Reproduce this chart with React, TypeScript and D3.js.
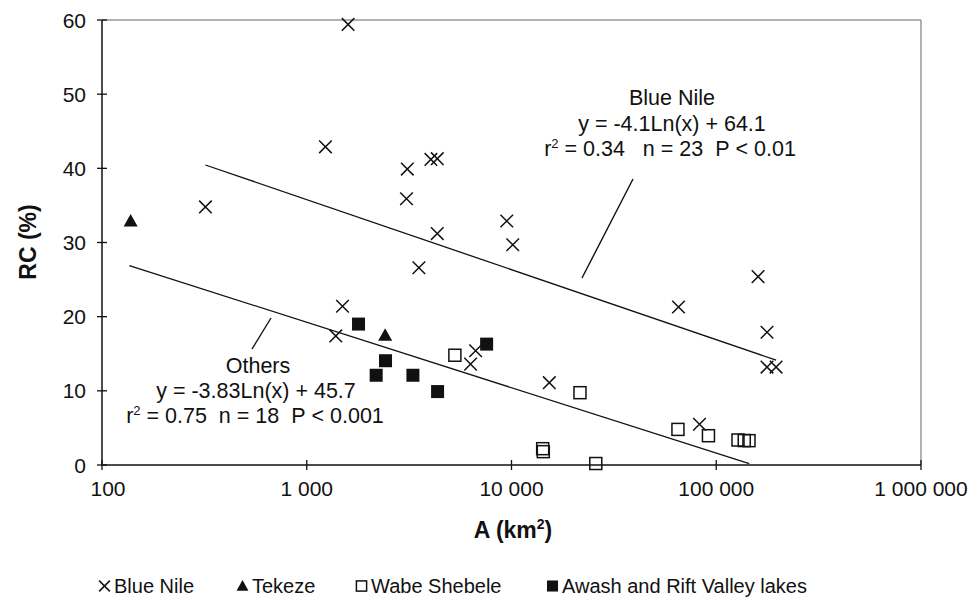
import React from 'react';
import * as d3 from 'd3';

// catchment area (km2) vs runoff coefficient (%)
const blueNile: [number, number][] = [
  [320, 34.8], [1234, 42.9], [1592, 59.4], [1386, 17.4], [1495, 21.4],
  [3070, 35.9], [3098, 39.9], [3530, 26.6], [4040, 41.2], [4340, 41.3],
  [4340, 31.2], [6310, 13.6], [6680, 15.4], [9480, 32.9], [10140, 29.7],
  [15300, 11.1], [65400, 21.3], [82800, 5.5], [160000, 25.4], [177000, 17.9],
  [177000, 13.2], [196000, 13.2],
];
const tekeze: [number, number][] = [[138, 32.9], [2415, 17.5]];
const wabeShebele: [number, number][] = [
  [5290, 14.8], [21600, 9.75], [14200, 2.2], [14300, 1.8], [25800, 0.2],
  [65000, 4.8], [91600, 3.95], [127700, 3.37], [137000, 3.3], [144500, 3.28],
];
const awashRift: [number, number][] = [
  [1790, 19.0], [2425, 14.06], [2183, 12.1], [3300, 12.1], [4355, 9.9], [7560, 16.3],
];

const xTicks = [100, 1000, 10000, 100000, 1000000];
const xTickLabels = ['100', '1 000', '10 000', '100 000', '1 000 000'];
const yTicks = [0, 10, 20, 30, 40, 50, 60];

const fits = [
  { slope: -4.1, intercept: 64.1, from: 320, to: 196000 },
  { slope: -3.83, intercept: 45.7, from: 136, to: 145000 },
];

const legendNames = ['Blue Nile', 'Tekeze', 'Wabe Shebele', 'Awash and Rift Valley lakes'];

const W = 972;
const H = 604;
const left = 102;
const right = 921;
const top = 20;
const bottom = 465;
const FONT = '"Liberation Sans", Arial, Helvetica, sans-serif';
const NB = '\u00a0';

const x = d3.scaleLog().domain([100, 1000000]).range([left, right]);
const y = d3.scaleLinear().domain([0, 60]).range([bottom, top]);

const cross = (s: number) => `M${-s},${-s}L${s},${s}M${-s},${s}L${s},${-s}`;
const tri = (s: number) => `M0,${-s}L${s},${s * 0.8}L${-s},${s * 0.8}Z`;

function Marker({ kind, cx, cy, size = 1 }: { kind: number; cx: number; cy: number; size?: number }) {
  const t = `translate(${cx},${cy})`;
  if (kind === 0)
    return <path d={cross(6.3 * size)} transform={t} stroke="#111" strokeWidth={1.5} fill="none" />;
  if (kind === 1) return <path d={tri(7 * size)} transform={t} fill="#111" />;
  if (kind === 2)
    return (
      <rect x={-6 * size} y={-6 * size} width={12 * size} height={12 * size} transform={t}
        fill="none" stroke="#111" strokeWidth={1.5} />
    );
  return <rect x={-6.5 * size} y={-6.5 * size} width={13 * size} height={13 * size} transform={t} fill="#111" />;
}

// keep runs of spaces visible in svg text
const sp = (s: string) => s.replace(/ /g, NB);

export default function App() {
  const series = [blueNile, tekeze, wabeShebele, awashRift];

  const fitPaths = fits.map((f) => {
    const pts: [number, number][] = [f.from, f.to].map((v) => [x(v), y(f.slope * Math.log(v) + f.intercept)]);
    return d3.line()(pts) as string;
  });

  const legendX = [99, 237, 356, 547];
  const legendY = 592;

  return (
    <svg width={W} height={H} style={{ position: 'absolute', left: 0, top: 0, background: '#fff' }}
      fontFamily={FONT}>
      {/* plot frame */}
      <line x1={left} x2={right} y1={top} y2={top} stroke="#999" strokeWidth={1.5} />
      <line x1={right} x2={right} y1={top} y2={bottom} stroke="#999" strokeWidth={1.5} />
      <line x1={left} x2={left} y1={top} y2={bottom} stroke="#111" strokeWidth={1.5} />
      <line x1={left} x2={right} y1={bottom} y2={bottom} stroke="#111" strokeWidth={1.5} />

      {yTicks.map((t) => (
        <g key={'y' + t}>
          <line x1={left - 5} x2={left + 5} y1={y(t)} y2={y(t)} stroke="#111" strokeWidth={1.3} />
          <text x={86} y={y(t)} dy="0.36em" textAnchor="end" fontSize={21} fill="#111">{t}</text>
        </g>
      ))}
      {xTicks.map((t, i) => (
        <g key={'x' + t}>
          <line x1={x(t)} x2={x(t)} y1={bottom - 5} y2={bottom + 5} stroke="#111" strokeWidth={1.3} />
          <text x={x(t) + (i === 0 ? 6 : 0)} y={496} textAnchor="middle" fontSize={21} fill="#111">
            {sp(xTickLabels[i])}
          </text>
        </g>
      ))}

      {/* axis titles */}
      <text transform="translate(36,242) rotate(-90)" textAnchor="middle" fontSize={23} fontWeight="bold" fill="#111">
        RC (%)
      </text>
      <text x={513} y={538} textAnchor="middle" fontSize={23} fontWeight="bold" fill="#111">
        A (km<tspan fontSize={14} dy={-9}>2</tspan><tspan dy={9}>)</tspan>
      </text>

      {/* regression lines */}
      {fitPaths.map((d, i) => (
        <path key={'f' + i} d={d} stroke="#111" strokeWidth={1.3} fill="none" />
      ))}

      {/* leader lines */}
      <line x1={633} y1={179} x2={582} y2={278} stroke="#111" strokeWidth={1.4} />
      <line x1={271} y1={318} x2={252} y2={349} stroke="#111" strokeWidth={1.4} />

      {/* points */}
      {series.map((s, k) =>
        s.map(([a, r], i) => <Marker key={k + '-' + i} kind={k} cx={x(a)} cy={y(r)} />)
      )}

      {/* annotations */}
      <g fontSize={21.5} fill="#111" textAnchor="middle">
        <text x={672} y={105}>Blue Nile</text>
        <text x={672} y={131}>y = -4.1Ln(x) + 64.1</text>
        <text x={670} y={156}>
          r<tspan fontSize={13} dy={-8}>2</tspan><tspan dy={8}>{sp(' = 0.34   n = 23  P < 0.01')}</tspan>
        </text>
        <text x={258} y={373}>Others</text>
        <text x={256} y={398}>y = -3.83Ln(x) + 45.7</text>
        <text x={255} y={423}>
          r<tspan fontSize={13} dy={-8}>2</tspan><tspan dy={8}>{sp(' = 0.75  n = 18  P < 0.001')}</tspan>
        </text>
      </g>

      {/* legend */}
      {legendNames.map((n, i) => (
        <g key={'l' + i}>
          <Marker kind={i} cx={legendX[i] + 5.5} cy={legendY - 6} size={0.85} />
          <text x={legendX[i] + 15} y={legendY + 1} fontSize={20} fill="#111">{n}</text>
        </g>
      ))}
    </svg>
  );
}
